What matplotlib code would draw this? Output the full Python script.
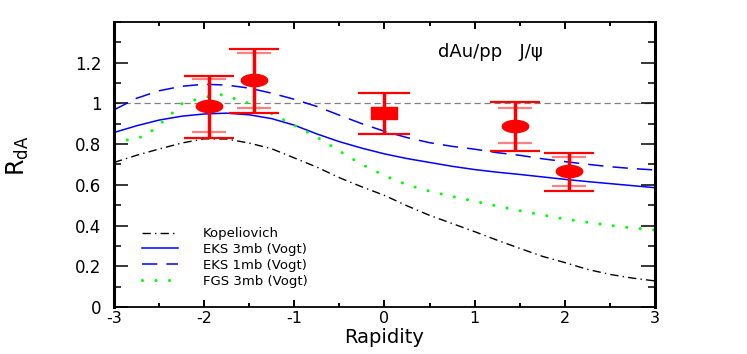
import numpy as np
import matplotlib
matplotlib.use("Agg")
import matplotlib.pyplot as plt
from matplotlib.path import Path
from matplotlib.ticker import MultipleLocator, FixedLocator, FuncFormatter

plt.rcParams['font.family'] = ['DejaVu Sans']
plt.rcParams['axes.unicode_minus'] = False

# theory curves
x_th = [-3.0, -2.75, -2.5, -2.25, -2.0, -1.75, -1.5, -1.25, -1.0, -0.75, -0.5, -0.25,
        0.0, 0.25, 0.5, 0.75, 1.0, 1.25, 1.5, 1.75, 2.0, 2.25, 2.5, 2.75, 3.0]
kopeliovich = [0.71, 0.745, 0.776, 0.805, 0.826, 0.825, 0.805, 0.777, 0.732, 0.687, 0.635, 0.59,
               0.548, 0.497, 0.45, 0.41, 0.37, 0.328, 0.288, 0.249, 0.218, 0.185, 0.16, 0.142, 0.128]
eks_3mb = [0.857, 0.89, 0.918, 0.937, 0.948, 0.952, 0.944, 0.925, 0.893, 0.85, 0.812, 0.78,
           0.752, 0.729, 0.71, 0.691, 0.675, 0.662, 0.651, 0.639, 0.627, 0.616, 0.606, 0.596, 0.586]
eks_1mb = [0.968, 1.025, 1.062, 1.084, 1.094, 1.09, 1.075, 1.05, 1.02, 0.985, 0.942, 0.90,
           0.863, 0.832, 0.807, 0.789, 0.775, 0.758, 0.745, 0.728, 0.714, 0.701, 0.689, 0.68, 0.673]
x_fgs = [-3.0, -2.8, -2.65, -2.5, -2.4, -2.25, -2.0, -1.8, -1.5, -1.25, -1.0, -0.75, -0.5, -0.25,
         0.0, 0.25, 0.5, 0.75, 1.0, 1.25, 1.5, 1.75, 2.0, 2.25, 2.5, 2.75, 3.0]
fgs_3mb = [0.81, 0.824, 0.84, 0.895, 0.932, 0.998, 1.03, 1.043, 1.0, 0.949, 0.892, 0.835, 0.766, 0.70,
           0.645, 0.60, 0.569, 0.543, 0.519, 0.496, 0.473, 0.452, 0.432, 0.416, 0.401, 0.388, 0.378]

# data points: muon arms (circles) and central arm (square)
x_mu = np.array([-1.95, -1.45, 1.45, 2.05])
y_mu = np.array([0.987, 1.115, 0.89, 0.667])
mu_tot_hi = np.array([1.135, 1.266, 1.007, 0.758])
mu_tot_lo = np.array([0.832, 0.952, 0.767, 0.570])
mu_in_hi = np.array([1.118, 1.247, 0.976, 0.737])
mu_in_lo = np.array([0.861, 0.979, 0.804, 0.594])

x_e = np.array([0.0])
y_e = np.array([0.951])
e_tot_hi = np.array([1.053])
e_tot_lo = np.array([0.852])

fig = plt.figure(figsize=(7.47, 3.54), dpi=100)
ax = fig.add_axes([0.1526, 0.1328, 0.7242, 0.8052])

ax.axhline(1.0, color='#808080', lw=0.9, dashes=(5, 3), zorder=1)

ax.plot(x_th, kopeliovich, color='black', lw=1.0, dashes=(6, 3, 1, 3), label='Kopeliovich')
ax.plot(x_th, eks_3mb, color='#0000ff', lw=1.1, label='EKS 3mb (Vogt)')
ax.plot(x_th, eks_1mb, color='#0000ff', lw=1.1, dashes=(10, 6), label='EKS 1mb (Vogt)')
ax.plot(x_fgs, fgs_3mb, color='#00ff00', lw=2.2, dashes=(0.01, 4.4), dash_capstyle='round',
        label='FGS 3mb (Vogt)')

# elliptical / rectangular markers (picture is stretched horizontally)
t = np.linspace(0, 2 * np.pi, 61)
ellipse = Path(np.column_stack([np.cos(t), 0.46 * np.sin(t)]))
rect = Path([(-1, -0.46), (1, -0.46), (1, 0.46), (-1, 0.46), (-1, -0.46)])

red = '#ff0000'
pink = '#ff8080'

# inner caps
ax.errorbar(x_mu, y_mu, yerr=[y_mu - mu_in_lo, mu_in_hi - y_mu], fmt='none',
            ecolor=pink, elinewidth=0, capsize=12.5, capthick=1.6, zorder=3)
# full error bars
ax.errorbar(x_mu, y_mu, yerr=[y_mu - mu_tot_lo, mu_tot_hi - y_mu], fmt='none',
            ecolor=red, elinewidth=2.5, capsize=18, capthick=1.6, zorder=4)
ax.errorbar(x_e, y_e, yerr=[y_e - e_tot_lo, e_tot_hi - y_e], fmt='none',
            ecolor=red, elinewidth=2.5, capsize=19, capthick=1.6, zorder=4)
ax.plot(x_mu, y_mu, ls='none', marker=ellipse, ms=19, color=red, mec=red, zorder=5)
ax.plot(x_e, y_e, ls='none', marker=rect, ms=18.5, color=red, mec=red, zorder=5)

ax.text(1.18, 1.23, 'dAu/pp   J/\u03c8', fontsize=13, ha='center', va='baseline')

ax.set_xlim(-3, 3)
ax.set_ylim(0, 1.4)
ax.xaxis.set_major_locator(MultipleLocator(1))
ax.xaxis.set_minor_locator(MultipleLocator(0.5))
ax.yaxis.set_major_locator(FixedLocator([0, 0.2, 0.4, 0.6, 0.8, 1.0, 1.2]))
ax.yaxis.set_minor_locator(MultipleLocator(0.1))
ax.yaxis.set_major_formatter(FuncFormatter(lambda v, p: '%g' % round(v, 2)))
ax.xaxis.set_major_formatter(FuncFormatter(lambda v, p: '%g' % v))

ax.tick_params(axis='x', which='both', direction='in', top=True, labelsize=11.5, pad=3)
ax.tick_params(axis='x', which='major', length=5, width=1.4)
ax.tick_params(axis='x', which='minor', length=3, width=1.4)
ax.tick_params(axis='y', which='both', direction='in', right=True, labelsize=12, pad=9)
ax.tick_params(axis='y', which='major', length=10, width=1.1)
ax.tick_params(axis='y', which='minor', length=5, width=1.1)

for side in ['left', 'right']:
    ax.spines[side].set_linewidth(2.2)
for side in ['top', 'bottom']:
    ax.spines[side].set_linewidth(1.3)

ax.set_xlabel('Rapidity', fontsize=14, labelpad=1)
ax.set_ylabel(r'R$_{\mathregular{dA}}$', fontsize=17)
ax.yaxis.set_label_coords(-0.154, 0.53)

ax.legend(loc='upper left', bbox_to_anchor=(0.052, 0.28), frameon=False, fontsize=9.5,
          handlelength=2.7, handletextpad=1.9, labelspacing=0.22, borderpad=0, borderaxespad=0)

plt.savefig('out.png', dpi=100)
